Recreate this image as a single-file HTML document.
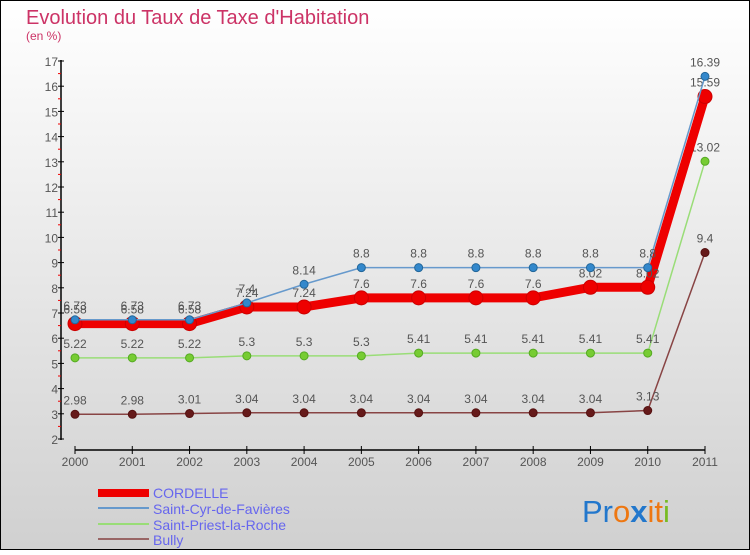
<!DOCTYPE html>
<html><head><meta charset="utf-8"><style>
html,body{margin:0;padding:0}
body{width:750px;height:550px;overflow:hidden;font-family:"Liberation Sans",sans-serif}
svg text{font-family:"Liberation Sans",sans-serif}
</style></head><body>
<svg id="chart" width="750" height="550" viewBox="0 0 750 550" xmlns="http://www.w3.org/2000/svg">
<defs><linearGradient id="bg" x1="0" y1="0" x2="0" y2="1"><stop offset="0" stop-color="#ffffff"/><stop offset="1" stop-color="#d0d0d0"/></linearGradient></defs>
<rect x="0.5" y="0.5" width="749" height="549" fill="url(#bg)" stroke="#000"/>
<text x="26" y="24" font-size="20" fill="#cc3366">Evolution du Taux de Taxe d'Habitation</text>
<text x="26" y="40" font-size="12" fill="#cc3366">(en %)</text>
<g id="axes"></g>
<g id="series"></g>
<g id="legend">
<rect x="98" y="489" width="51" height="8" fill="#ee0000"/>
<text x="153" y="498" font-size="14" fill="#6666ee">CORDELLE</text>
<rect x="98" y="507" width="51" height="2" fill="#6699cc"/>
<text x="153" y="514" font-size="14" fill="#6666ee">Saint-Cyr-de-Favières</text>
<rect x="98" y="523" width="51" height="2" fill="#99dd77"/>
<text x="153" y="530" font-size="14" fill="#6666ee">Saint-Priest-la-Roche</text>
<rect x="98" y="538" width="51" height="2" fill="#996666"/>
<text x="153" y="545" font-size="14" fill="#6666ee">Bully</text>
</g>
<g font-size="31" font-family="Liberation Sans,sans-serif">
<text x="582" y="522"><tspan fill="#2277cc">Pr</tspan><tspan fill="#ee7711">o</tspan><tspan fill="#2277cc" font-weight="bold">x</tspan><tspan fill="#ee7711">it</tspan><tspan fill="#77bb22">i</tspan></text>
</g>
</svg>
<script>
const years = ["2000","2001","2002","2003","2004","2005","2006","2007","2008","2009","2010","2011"];
const yTicks = [2,3,4,5,6,7,8,9,10,11,12,13,14,15,16,17];
const cordelle = [6.58,6.58,6.58,7.24,7.24,7.6,7.6,7.6,7.6,8.02,8.02,15.59];
const saintCyr = [6.73,6.73,6.73,7.4,8.14,8.8,8.8,8.8,8.8,8.8,8.8,16.39];
const saintPriest = [5.22,5.22,5.22,5.3,5.3,5.3,5.41,5.41,5.41,5.41,5.41,13.02];
const bully = [2.98,2.98,3.01,3.04,3.04,3.04,3.04,3.04,3.04,3.04,3.13,9.4];

const NS="http://www.w3.org/2000/svg";
const x0=75,x1=705,yTop=61,yBot=439;
function xs(i){return x0+(x1-x0)*i/(years.length-1);}
function ys(v){return yBot-(v-2)*(yBot-yTop)/15;}
function mk(tag,attrs,parent){const e=document.createElementNS(NS,tag);for(const k in attrs)e.setAttribute(k,attrs[k]);parent.appendChild(e);return e;}
const axes=document.getElementById('axes');
let yl=mk('line',{x1:61,y1:yTop-1,x2:61,y2:yBot+1,stroke:'#000','stroke-width':1.5},axes);


yTicks.forEach((t,i)=>{
  const y=ys(t);
  mk('line',{x1:58,y1:y,x2:64,y2:y,stroke:'#000'},axes);
  if(i<yTicks.length-1) mk('line',{x1:58,y1:y-12.6,x2:61,y2:y-12.6,stroke:'#ee0000'},axes);
  const tx=mk('text',{x:58,y:y+5,'font-size':12,'text-anchor':'end',fill:'#555'},axes);
  tx.textContent=t;
  
  
});
let xl=mk('line',{x1:x0,y1:450,x2:x1,y2:450,stroke:'#000','stroke-width':1.5},axes);


years.forEach((yr,i)=>{
  const x=xs(i);
  mk('line',{x1:x,y1:446,x2:x,y2:454,stroke:'#000'},axes);
  const tx=mk('text',{x:x,y:466,'font-size':12,'text-anchor':'middle',fill:'#555'},axes);
  tx.textContent=yr;
  
  
});
const sg=document.getElementById('series');
function draw(vals,name,color,lw,r,dot,dotStroke){
  const g=mk('g',{},sg);
  
  
  const pts=vals.map((v,i)=>xs(i)+','+ys(v)).join(' ');
  mk('polyline',{points:pts,fill:'none',stroke:color,'stroke-width':lw,'stroke-linejoin':'round'},g);
  vals.forEach((v,i)=>{
    const c=mk('circle',{cx:xs(i),cy:ys(v),r:r,fill:dot,stroke:dotStroke,'stroke-width':1},g);
    
    
    const t=mk('text',{x:xs(i),y:ys(v)-10,'font-size':12,'text-anchor':'middle',fill:'#555'},g);
    t.textContent=String(v);
    
    
  });
}
draw(bully,'bully','#884444',1.5,4,'#661a1a','#551111');
draw(saintPriest,'saint-priest','#99dd77',1.5,4,'#77cc33','#55aa22');
draw(cordelle,'cordelle','#ee0000',9,7,'#ee0000','#cc0000');
draw(saintCyr,'saint-cyr','#6699cc',1.5,4,'#3388cc','#226699');
</script>
</body></html>
